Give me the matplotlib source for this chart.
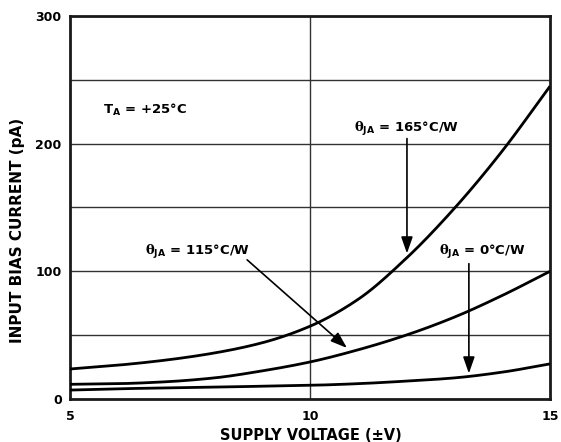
import matplotlib
matplotlib.use("Agg")
import matplotlib.pyplot as plt
import numpy as np

plt.rcParams['font.family'] = ['DejaVu Sans']
plt.rcParams['font.weight'] = 'bold'
plt.rcParams['mathtext.fontset'] = 'custom'
plt.rcParams['mathtext.rm'] = 'DejaVu Sans:bold'
plt.rcParams['mathtext.bf'] = 'DejaVu Sans:bold'
plt.rcParams['mathtext.it'] = 'DejaVu Serif:bold'

# Data (supply voltage, ±V) and input bias current (pA)
voltage_165 = [5, 6, 7, 8, 9, 10, 11, 12, 13, 14, 15]
bias_165 = [23.5, 26.5, 30.5, 36, 44, 57, 78, 110, 149, 194, 245]

voltage_115 = [5, 6, 7, 8, 9, 10, 11, 12, 13, 14, 15]
bias_115 = [11.5, 12, 13.5, 16.5, 22, 29, 38.5, 50, 64, 81, 100]

voltage_0 = [5, 6, 7, 8, 9, 10, 11, 12, 13, 14, 15]
bias_0 = [7, 8, 8.7, 9.3, 10, 10.7, 12, 14, 16.5, 21, 27.5]

x_ticks = [5, 10, 15]
y_ticks = [0, 100, 200, 300]
h_grid = [50, 100, 150, 200, 250]
v_grid = [10]


def pchip(xs, ys, xf):
    xs = np.asarray(xs, float); ys = np.asarray(ys, float)
    h = np.diff(xs); d = np.diff(ys) / h
    n = len(xs); m = np.zeros(n)
    for k in range(1, n - 1):
        if d[k - 1] * d[k] > 0:
            w1 = 2 * h[k] + h[k - 1]; w2 = h[k] + 2 * h[k - 1]
            m[k] = (w1 + w2) / (w1 / d[k - 1] + w2 / d[k])
    m[0] = d[0]; m[-1] = d[-1]
    idx = np.clip(np.searchsorted(xs, xf) - 1, 0, n - 2)
    t = (xf - xs[idx]) / h[idx]
    h00 = 2 * t**3 - 3 * t**2 + 1; h10 = t**3 - 2 * t**2 + t
    h01 = -2 * t**3 + 3 * t**2; h11 = t**3 - t**2
    return h00 * ys[idx] + h10 * h[idx] * m[idx] + h01 * ys[idx + 1] + h11 * h[idx] * m[idx + 1]


fig = plt.figure(figsize=(5.61, 4.42), dpi=100)
ax = fig.add_axes([70/561, 43/442, 480/561, 383/442])

for g in h_grid:
    ax.axhline(g, color='#333333', lw=1.0, zorder=1)
for g in v_grid:
    ax.axvline(g, color='#333333', lw=1.0, zorder=1)

for xs, ys in [(voltage_165, bias_165), (voltage_115, bias_115), (voltage_0, bias_0)]:
    xf = np.linspace(xs[0], xs[-1], 400)
    ax.plot(xf, pchip(xs, ys, xf), color='black', lw=2.0, zorder=3, solid_capstyle='butt')

ax.set_xlim(5, 15)
ax.set_ylim(0, 300)
ax.set_xticks(x_ticks)
ax.set_yticks(y_ticks)
ax.tick_params(length=0, labelsize=9)
ax.tick_params(axis='x', pad=8)
ax.tick_params(axis='y', pad=6)
for lab in ax.get_xticklabels() + ax.get_yticklabels():
    lab.set_fontweight('bold')
for s in ax.spines.values():
    s.set_linewidth(2.0)
    s.set_color('#1a1a1a')

ap = dict(arrowstyle='-|>,head_length=1.0,head_width=0.35', lw=1.2, color='black',
          shrinkA=0, shrinkB=0)
ax.annotate('', xy=(12.02, 114), xytext=(12.02, 204), arrowprops=ap, zorder=4)
ax.annotate('', xy=(10.77, 40), xytext=(8.69, 109), arrowprops=ap, zorder=4)
ax.annotate('', xy=(13.31, 20), xytext=(13.31, 106), arrowprops=ap, zorder=4)

fs = 9.5
ax.text(10.92, 209.3, r'$\theta_{\mathrm{JA}}$ = 165°C/W', fontsize=fs, fontweight='bold', va='baseline', ha='left')
ax.text(6.56, 112.8, r'$\theta_{\mathrm{JA}}$ = 115°C/W', fontsize=fs, fontweight='bold', va='baseline', ha='left')
ax.text(12.69, 113, r'$\theta_{\mathrm{JA}}$ = 0°C/W', fontsize=fs, fontweight='bold', va='baseline', ha='left')
ax.text(5.69, 223, r'T$_{\mathrm{A}}$ = +25°C', fontsize=fs, fontweight='bold', va='baseline', ha='left')

fig.text(311/561, 1 - 435/442, 'SUPPLY VOLTAGE (±V)', fontsize=10.5, fontweight='bold', ha='center', va='center')
fig.text(18/561, 1 - 230/442, 'INPUT BIAS CURRENT (pA)', fontsize=11, fontweight='bold', ha='center', va='center', rotation=90)

fig.savefig('out.png', dpi=100)
